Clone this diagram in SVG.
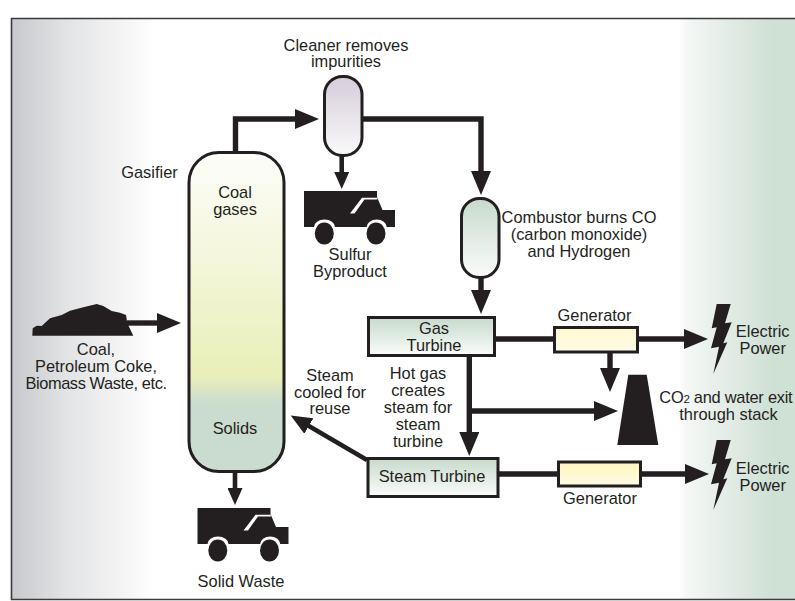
<svg xmlns="http://www.w3.org/2000/svg" xmlns:xlink="http://www.w3.org/1999/xlink" width="795" height="601" viewBox="0 0 795 601">
<style>
text{font-family:"Liberation Sans",Arial,sans-serif;font-size:16.4px;fill:#231f20;text-anchor:middle}
.v{stroke:#231f20;stroke-width:3}
.c{fill:none;stroke:#231f20;stroke-linejoin:miter}
.h{stroke-width:5.4;marker-end:url(#big)}
.p{stroke-width:5.4}
.s{stroke-width:4.6;marker-end:url(#small)}
.d{stroke-width:4.4;marker-end:url(#mid)}
.k{fill:#231f20}
</style>
<defs>
<marker id="big" markerUnits="userSpaceOnUse" markerWidth="25" markerHeight="20" refX="1" refY="10" orient="auto"><path d="M0,0L24,10L0,20Z" fill="#231f20"/></marker>
<marker id="small" markerUnits="userSpaceOnUse" markerWidth="18" markerHeight="15" refX="1" refY="7.5" orient="auto"><path d="M0,0L17,7.5L0,15Z" fill="#231f20"/></marker>
<marker id="mid" markerUnits="userSpaceOnUse" markerWidth="22" markerHeight="18" refX="1" refY="9" orient="auto"><path d="M0,0L21,9L0,18Z" fill="#231f20"/></marker>
<linearGradient id="bgL" gradientUnits="userSpaceOnUse" x1="12" y1="0" x2="154" y2="0"><stop offset="0" stop-color="#c7c9cc"/><stop offset=".38" stop-color="#e2e3e5"/><stop offset=".85" stop-color="#f7f7f7"/><stop offset="1" stop-color="#fff"/></linearGradient>
<linearGradient id="bgR" gradientUnits="userSpaceOnUse" x1="678" y1="0" x2="772" y2="0"><stop offset="0" stop-color="#fff"/><stop offset=".1" stop-color="#f4f7f5"/><stop offset="1" stop-color="#cfe0d5"/></linearGradient>
<linearGradient id="gas" x1="0" y1="0" x2="0" y2="1"><stop offset="0" stop-color="#fdfdfa"/><stop offset=".7" stop-color="#e9efb8"/><stop offset=".79" stop-color="#c9dccf"/><stop offset="1" stop-color="#c9dccf"/></linearGradient>
<linearGradient id="cln" x1="0" y1="0" x2="0" y2="1"><stop offset=".1" stop-color="#d9d1dc"/><stop offset="1" stop-color="#fafafb"/></linearGradient>
<linearGradient id="grn" x1="0" y1="0" x2="0" y2="1"><stop offset=".05" stop-color="#c9dccf"/><stop offset="1" stop-color="#fbfcfb"/></linearGradient>
<linearGradient id="yel" x1="0" y1="0" x2="0" y2="1"><stop offset="0" stop-color="#fff9d0"/><stop offset="1" stop-color="#fdfbe8"/></linearGradient>
<linearGradient id="yel2" x1="0" y1="0" x2="0" y2="1"><stop offset="0" stop-color="#fff6b8"/><stop offset="1" stop-color="#fdfbe8"/></linearGradient>
<g id="truck">
<path class="k" fill-rule="evenodd" d="M0,0H73V6L78.5,19H91V36H82.7A10,7.5 0 0 0 62.7,36H31A10.5,7.5 0 0 0 10,36H0ZM46,22.5L58,6.7H73L73.5,8.5H60.5L50.5,22.5Z"/>
<ellipse class="k" cx="20.3" cy="42.5" rx="9.5" ry="11"/>
<ellipse class="k" cx="72" cy="42.5" rx="9.5" ry="11"/>
</g>
<path id="bolt" class="k" d="M716.7,304H730.7L725,323.3L731.7,322.3L723.3,343.3L727.3,342.3L713.3,374L719,346.7L711,348.3L716.7,327.3L711.7,328.3Z"/>
</defs>
<rect width="795" height="601" fill="#fff"/>
<g id="background">
<rect x="12" y="19" width="142" height="580" fill="url(#bgL)"/>
<rect x="678" y="19" width="117" height="580" fill="url(#bgR)"/>
<path d="M795,18.5H11.5V599.5H795" fill="none" stroke="#3a3a3c" stroke-width="1.6"/>
</g>
<g id="connectors">
<path class="c h" d="M235.5,152V119H296"/>
<path class="c h" d="M362,119H481V172"/>
<path class="c s" d="M341.7,155V173"/>
<path class="c s" d="M235,471V489"/>
<path class="c h" d="M127,323H158"/>
<path class="c h" d="M481,278V291"/>
<path class="c p" d="M495,339H554"/>
<path class="c h" d="M638,339H685"/>
<path class="c h" d="M610,352V369"/>
<path class="c h" d="M469.3,356V433"/>
<path class="c h" d="M472,411H595"/>
<path class="c p" d="M498,474H558"/>
<path class="c h" d="M641,474H686"/>
<path class="c d" d="M367,460L308,425.5"/>
</g>
<g id="gasifier">
<rect class="v" x="189" y="152.5" width="95" height="319" rx="30" ry="30" fill="url(#gas)"/>
<text x="149.500" y="178">Gasifier</text>
<text x="235" y="198">Coal</text>
<text x="235" y="215">gases</text>
<text x="235" y="434">Solids</text>
</g>
<g id="cleaner">
<rect class="v" x="324.500" y="76.500" width="37.500" height="79" rx="18" ry="18" fill="url(#cln)"/>
<text x="346" y="50.500">Cleaner removes</text>
<text x="346" y="67">impurities</text>
</g>
<g id="sulfur-truck">
<use href="#truck" xlink:href="#truck" x="304" y="191"/>
<text x="350" y="260">Sulfur</text>
<text x="350" y="277">Byproduct</text>
</g>
<g id="combustor">
<rect class="v" x="461.500" y="198.500" width="37.500" height="79" rx="18" ry="18" fill="url(#grn)"/>
<text x="579" y="223">Combustor burns CO</text>
<text x="579" y="240">(carbon monoxide)</text>
<text x="579" y="257">and Hydrogen</text>
</g>
<g id="coal">
<path class="k" d="M32.3,335.7L32.7,328.3L36.7,325.7L41.7,326L50,318.300L61.7,315L70,310.700L83.3,307.300L96.7,304L103.3,306L111.7,311L120,312.700L126,315L127.3,323.300L133.3,335.700Z"/>
<text x="96" y="355">Coal,</text>
<text x="96" y="372">Petroleum Coke,</text>
<text x="96" y="389" style="letter-spacing:-.4px">Biomass Waste, etc.</text>
</g>
<g id="solid-waste">
<use href="#truck" xlink:href="#truck" x="197.500" y="508"/>
<text x="241" y="586.500">Solid Waste</text>
</g>
<g id="gas-turbine">
<rect class="v" x="368.500" y="317.500" width="126" height="38" fill="url(#grn)"/>
<text x="434" y="334">Gas</text>
<text x="434" y="351">Turbine</text>
</g>
<g id="steam-turbine">
<rect class="v" x="368" y="458.500" width="130" height="38" fill="url(#grn)"/>
<text x="432" y="481.500">Steam Turbine</text>
</g>
<g id="generator-1">
<rect class="v" x="554.500" y="327.500" width="83" height="24.500" fill="url(#yel)"/>
<text x="594.500" y="320.500">Generator</text>
</g>
<g id="generator-2">
<rect class="v" x="558.500" y="462" width="82" height="24" fill="url(#yel2)"/>
<text x="600" y="504">Generator</text>
</g>
<g id="stack">
<path class="k" d="M628.300,374.700H646.700L658.300,445H617.300Z"/>
<text x="659.300" y="403.300" style="text-anchor:start;letter-spacing:-.25px">CO<tspan font-size="11.500">2</tspan> and water exit</text>
<text x="728.500" y="420">through stack</text>
</g>
<g id="power-1">
<use href="#bolt" xlink:href="#bolt"/>
<text x="762.700" y="336.700">Electric</text>
<text x="762.700" y="353.500">Power</text>
</g>
<g id="power-2">
<use href="#bolt" xlink:href="#bolt" y="136"/>
<text x="762.700" y="474.300">Electric</text>
<text x="762.700" y="491">Power</text>
</g>
<g id="labels">
<text x="330" y="380.700">Steam</text>
<text x="330" y="397.700">cooled for</text>
<text x="330" y="414.300">reuse</text>
<text x="418" y="379.300">Hot gas</text>
<text x="418" y="396.300">creates</text>
<text x="418" y="413.300">steam for</text>
<text x="418" y="430">steam</text>
<text x="418" y="447">turbine</text>
</g>
</svg>
